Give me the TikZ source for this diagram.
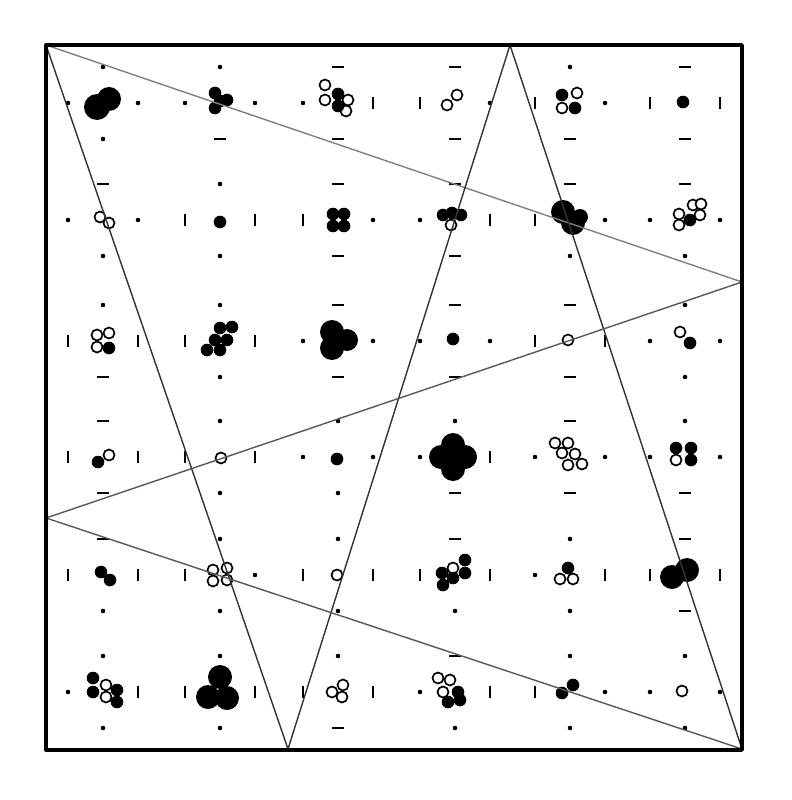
\documentclass[tikz,border=0pt]{standalone}
\begin{document}
\begin{tikzpicture}[x=0.025cm, y=-0.025cm, line join=round, line cap=round,
	full/.style={fill=black},
	hollow/.style={draw=black, fill=white, line width=1.2pt},
	tick/.style={line width=1.6pt, line cap=butt},
	ray/.style={line width=1pt, black!80}]

	\useasboundingbox (0,0) rectangle (791,800);

	% --- marks round each cell: x/y/left/right/top/bottom (1 = bar, 0 = dot)
	\foreach \cx/\cy/\ml/\mr/\mt/\mb in {
		103/103/0/0/0/0, 220/103/0/0/0/1, 338/103/0/1/1/1, 455/103/1/0/1/1, 570/103/1/0/0/1, 685/103/1/1/1/1,
		103/220/0/0/1/0, 220/220/1/1/0/0, 338/220/1/0/1/1, 455/220/0/1/1/1, 570/220/1/0/1/0, 685/220/0/0/1/0,
		103/341/1/1/0/1, 220/341/1/1/0/0, 338/341/0/0/1/1, 455/341/0/0/1/1, 570/341/1/1/1/1, 685/341/0/0/0/0,
		103/457/1/1/1/1, 220/457/1/1/0/0, 338/457/0/0/0/0, 455/457/0/1/0/1, 570/457/0/0/1/1, 685/457/0/0/0/1,
		103/575/1/1/1/0, 220/575/1/0/0/0, 338/575/1/1/0/0, 455/575/1/1/1/0, 570/575/0/1/0/0, 685/575/1/1/1/1,
		103/692/0/1/0/0, 220/692/1/1/0/0, 338/692/1/1/0/1, 455/692/0/1/1/0, 570/692/1/0/0/0, 685/692/0/0/0/0} {
		\ifnum\ml=1 \draw[tick] (\cx-35,\cy-6) -- (\cx-35,\cy+6); \else \fill (\cx-35,\cy) circle (2.3); \fi
		\ifnum\mr=1 \draw[tick] (\cx+35,\cy-6) -- (\cx+35,\cy+6); \else \fill (\cx+35,\cy) circle (2.3); \fi
		\ifnum\mt=1 \draw[tick] (\cx-6,\cy-36) -- (\cx+6,\cy-36); \else \fill (\cx,\cy-36) circle (2.3); \fi
		\ifnum\mb=1 \draw[tick] (\cx-6,\cy+36) -- (\cx+6,\cy+36); \else \fill (\cx,\cy+36) circle (2.3); \fi
	}

	% --- open rings
	\foreach \px/\py in {325/85, 325/100, 348/100, 346/111, 447/105, 457/95, 577/93, 562/108,
		100/217, 109/223, 451/225, 679/214, 693/205, 701/204, 700/215, 679/225,
		97/335, 109/333, 97/347, 568/340, 680/332,
		109/455, 221/458, 555/443, 568/443, 562/453, 575/454, 568/465, 582/464, 676/460,
		213/570, 227/568, 213/581, 227/580, 337/575, 453/568, 560/579, 573/579,
		106/685, 106/697, 332/692, 343/685, 342/697, 438/678, 450/680, 443/692, 682/691}
		\path[hollow] (\px,\py) circle (5.5);

	% --- small dots
	\foreach \px/\py in {215/93, 227/100, 215/108, 220/101, 338/94, 338/106, 562/95, 575/108, 683/102,
		220/222, 333/214, 344/214, 333/226, 344/226, 443/215, 452/213, 461/215, 690/220,
		109/348, 220/328, 232/327, 215/340, 227/340, 207/350, 220/350, 453/339, 690/343,
		98/462, 337/459, 676/448, 691/448, 691/460,
		101/572, 110/580, 442/573, 443/585, 453/578, 465/560, 465/573, 568/568,
		93/678, 93/692, 117/690, 117/702, 458/692, 448/702, 460/700, 562/693, 573/685}
		\path[full] (\px,\py) circle (6.3);

	% --- big blobs
	\foreach \px/\py/\s in {97/107/13, 109/99/12, 563/212/12, 573/223/12, 580/217/8,
		332/332/12, 332/348/12, 347/340/11,
		453/457/12, 441/457/12, 465/457/12, 453/445/12, 453/469/12,
		672/577/12, 687/570/12,
		220/677/12, 208/697/12, 227/698/12}
		\path[full] (\px,\py) circle (\s);

	% --- star lines
	\coordinate (nw) at (46,45);
	\coordinate (apex) at (510,45);
	\coordinate (east) at (742,282);
	\coordinate (west) at (46,518);
	\coordinate (vee) at (288,749);
	\coordinate (se) at (742,749);

	\draw[ray, black!50] (nw) -- (east);
	\draw[ray] (nw) -- (vee);
	\draw[ray] (apex) -- (vee);
	\draw[ray] (apex) -- (se);
	\draw[ray, black!65] (west) -- (east);
	\draw[ray, black!65] (west) -- (se);

	\draw[line width=2.4pt] (46,45) rectangle (742,750);

\end{tikzpicture}
\end{document}
